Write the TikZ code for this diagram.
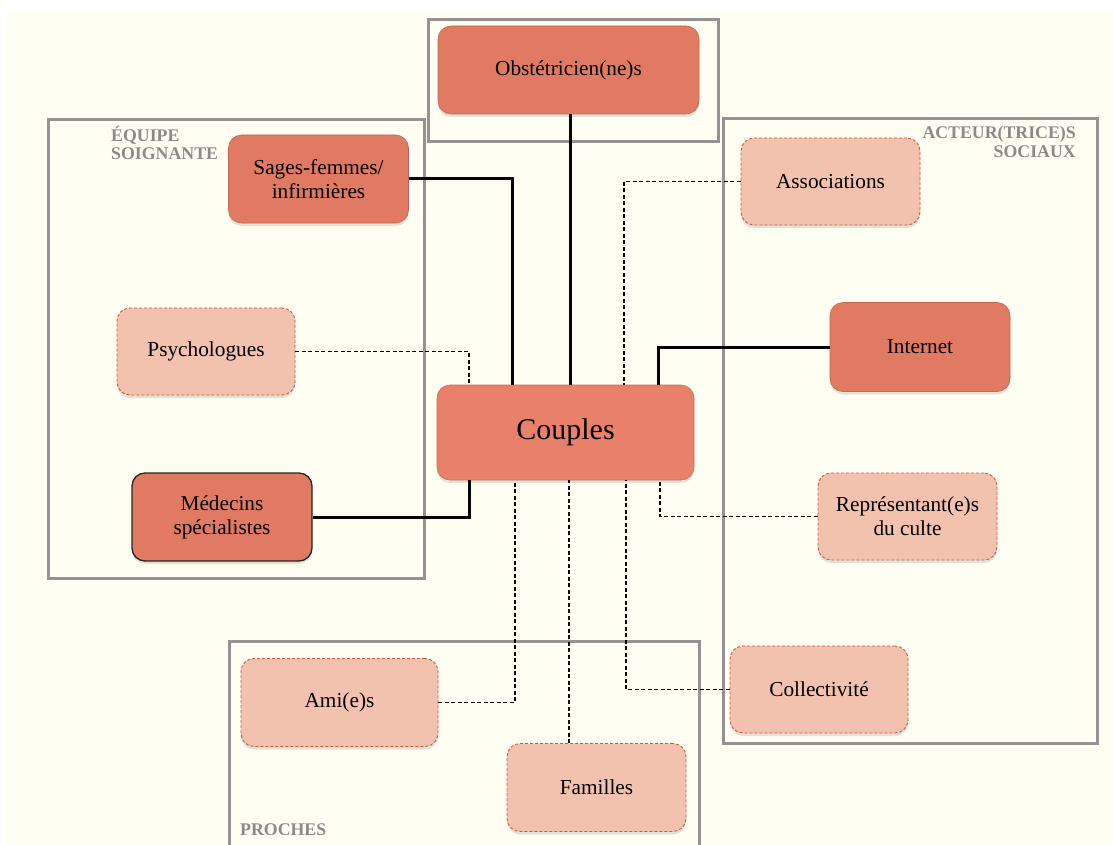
\documentclass[tikz,border=0pt]{standalone}
\usepackage{fontspec}
\setmainfont{Liberation Serif}
\usetikzlibrary{shadows}
\definecolor{paper}{HTML}{FFFEF3}
\definecolor{framegrey}{HTML}{939393}
\definecolor{strongfill}{HTML}{E07A62}
\definecolor{corefill}{HTML}{E8806A}
\definecolor{softfill}{HTML}{F2C2AE}
\definecolor{softedge}{HTML}{C45A40}
\definecolor{headgrey}{HTML}{8A8A8A}
\tikzset{
  x=1pt, y=-1pt,
  every node/.style={inner sep=0pt, align=center, text=black},
  groupframe/.style={draw=framegrey, line width=3pt},
  grouptitle/.style={text=headgrey, font=\fontsize{17.8}{18.5}\selectfont\bfseries},
  basebox/.style={rounded corners=13pt, font=\fontsize{21.3}{24}\selectfont,
    drop shadow={opacity=0.22, shadow xshift=0pt, shadow yshift=-3pt}},
  strongbox/.style={basebox, fill=strongfill, draw=strongfill!85!black, line width=0.6pt},
  softbox/.style={basebox, fill=softfill, draw=softedge, line width=0.9pt, dash pattern=on 3pt off 2pt},
  solidlink/.style={draw=black, line width=3pt},
  dashlink/.style={draw=black, line width=1.3pt, dash pattern=on 4pt off 2.5pt},
}
\begin{document}
\begin{tikzpicture}
\useasboundingbox (0,0) rectangle (1113,845);
\fill[white] (0,0) rectangle (1113,845);
\fill[paper] (5,12) rectangle (1113,845);

% group frames
\draw[groupframe] (428,20) rectangle (718,142);
\draw[groupframe] (48,120) rectangle (424,578);
\draw[groupframe] (723,119) rectangle (1097,743);
\draw[groupframe] (229,641) rectangle (699,850);

% group titles
\node[grouptitle, align=left, anchor=north west] (tsoins) at (111,126) {ÉQUIPE\\SOIGNANTE};
\node[grouptitle, align=right, anchor=north east] (tsociaux) at (1076,126) {ACTEUR(TRICE)S\\SOCIAUX};
\node[grouptitle, anchor=base west] (tproches) at (240,835) {PROCHES};

% nodes
\node[strongbox, minimum width=261pt, minimum height=88pt] (obst) at (568.5,70) {Obstétricien(ne)s};
\node[strongbox, minimum width=180pt, minimum height=88pt] (sages) at (318.5,179) {Sages-femmes/\\infirmières};
\node[softbox, minimum width=178pt, minimum height=87pt] (psy) at (206,351.5) {Psychologues};
\node[strongbox, draw=black!85, line width=1.3pt, minimum width=180pt, minimum height=88pt] (med) at (222,517) {Médecins\\spécialistes};
\node[strongbox, fill=corefill, draw=corefill!85!black, minimum width=257pt, minimum height=95pt, font=\fontsize{30}{32}\selectfont] (couples) at (565.5,432.5) {Couples};
\node[softbox, minimum width=179pt, minimum height=87pt] (assoc) at (830.5,181.5) {Associations};
\node[strongbox, minimum width=180pt, minimum height=89pt] (web) at (920,347) {Internet};
\node[softbox, minimum width=179pt, minimum height=87pt] (culte) at (907.5,516.5) {Représentant(e)s\\du culte};
\node[softbox, minimum width=178pt, minimum height=87pt] (collec) at (819,689.5) {Collectivité};
\node[softbox, minimum width=197pt, minimum height=88pt] (amis) at (339.5,702.5) {Ami(e)s};
\node[softbox, minimum width=179pt, minimum height=88pt] (fam) at (596.5,787.5) {Familles};

% connectors
\draw[solidlink] (570,0 |- obst.south) -- (570,0 |- couples.north);
\draw[solidlink] (sages.east) -| (512,0 |- couples.north);
\draw[solidlink] (web.west) -| (658,0 |- couples.north);
\draw[solidlink] (med.east) -| (469,0 |- couples.south);
\draw[dashlink] (psy.east) -| (469,0 |- couples.north);
\draw[dashlink] (assoc.west) -| (624,0 |- couples.north);
\draw[dashlink] (culte.west) -| (660,0 |- couples.south);
\draw[dashlink] (collec.west) -| (626,0 |- couples.south);
\draw[dashlink] (amis.east) -| (515,0 |- couples.south);
\draw[dashlink] (569,0 |- fam.north) -- (569,0 |- couples.south);
\end{tikzpicture}
\end{document}
